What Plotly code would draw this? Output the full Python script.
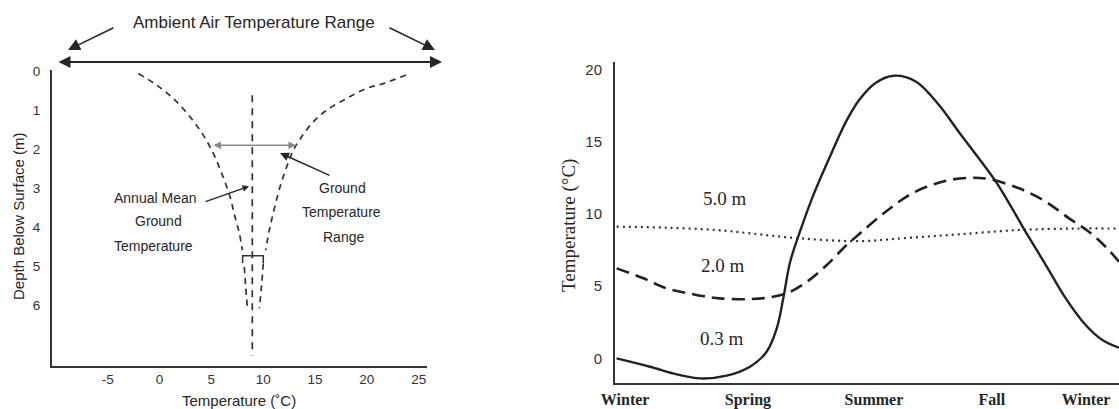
import plotly.graph_objects as go

# ---------------- Left panel data (temperature °C vs depth m) ----------------
left_xticks = [-5, 0, 5, 10, 15, 20, 25]
left_xtick_text = ["-5", "0", "5", "10", "15", "20", "25"]
left_yticks = [0, 1, 2, 3, 4, 5, 6]

cold_upper_temp = [-2.04, -0.27, 1.33, 2.94, 4.22, 5.19, 6.0, 6.8, 7.28, 7.7, 7.99]
cold_upper_depth = [0.06, 0.36, 0.7, 1.17, 1.64, 2.11, 2.62, 3.22, 3.74, 4.16, 4.59]
cold_lower_temp = [8.18, 8.31, 8.47]
cold_lower_depth = [5.02, 5.53, 6.04]

warm_upper_temp = [23.77, 21.58, 19.98, 18.05, 16.12, 14.83, 13.71, 12.9, 12.27, 11.62, 11.04, 10.59, 10.24]
warm_upper_depth = [0.1, 0.32, 0.44, 0.7, 1.0, 1.3, 1.68, 2.03, 2.45, 2.97, 3.56, 4.08, 4.59]
warm_lower_temp = [10.01, 9.86, 9.63]
warm_lower_depth = [4.93, 5.44, 6.08]

mean_temp = [8.95, 8.95]
mean_depth = [0.62, 7.3]

bracket_temp = [8.02, 8.02, 10.01, 10.01]
bracket_depth = [4.92, 4.73, 4.73, 4.92]

range_depth = 1.9
range_lo, range_hi = 5.06, 13.16

# ---------------- Right panel data (season vs temperature) ----------------
season_pos = [0.25, 3.27, 6.37, 9.27, 11.59]
season_labels = ["Winter", "Spring", "Summer", "Fall", "Winter"]
right_yticks = [0, 5, 10, 15, 20]

months_03 = [0.04, 0.86, 1.52, 2.09, 2.75, 3.32, 3.73, 3.98, 4.14, 4.31, 4.55, 4.88, 5.29, 5.7,
             6.03, 6.41, 6.86, 7.4, 7.97, 8.46, 8.95, 9.37, 9.77, 10.1, 10.6, 11.09, 11.58, 11.99, 12.4]
temp_03 = [0, -0.58, -1.11, -1.39, -1.2, -0.58, 0.46, 2.08, 4.16, 6.7, 8.78, 11.32, 14.0, 16.5,
           18.0, 19.1, 19.6, 19.2, 17.57, 15.7, 13.87, 12.25, 10.4, 8.78, 6.47, 4.16, 2.31, 1.27, 0.74]

months_20 = [0.04, 0.7, 1.27, 1.93, 2.58, 3.32, 3.89, 4.31, 4.72, 5.21, 5.7, 6.03, 6.66, 7.31,
             8.05, 8.71, 9.2, 9.94, 10.6, 11.17, 11.66, 12.07, 12.4]
temp_20 = [6.24, 5.55, 4.85, 4.44, 4.16, 4.11, 4.27, 4.62, 5.31, 6.47, 7.86, 8.67, 10.17, 11.44,
           12.25, 12.52, 12.43, 11.79, 10.86, 9.71, 8.78, 7.74, 6.7]

months_50 = [0.04, 1.27, 2.5, 3.32, 4.55, 6.03, 7.23, 8.46, 9.94, 11.33, 12.4]
temp_50 = [9.13, 9.06, 8.9, 8.67, 8.32, 8.13, 8.36, 8.6, 8.9, 9.0, 9.0]

W, H = 1119, 409
def px(x):
    return x / W
def py(y):
    return 1 - y / H

SANS = "Liberation Sans, Arial, sans-serif"
SERIF = "Liberation Serif, Times New Roman, serif"
INK = "#262626"

fig = go.Figure()

ldash = dict(color="#333", width=1.7, dash="6px,5px")
for xs, ys in [(cold_upper_temp, cold_upper_depth), (cold_lower_temp, cold_lower_depth),
               (warm_upper_temp, warm_upper_depth), (warm_lower_temp, warm_lower_depth)]:
    fig.add_trace(go.Scatter(x=xs, y=ys, mode="lines", line=dict(**ldash, shape="spline"),
                             xaxis="x", yaxis="y", hoverinfo="skip"))
fig.add_trace(go.Scatter(x=mean_temp, y=mean_depth, mode="lines",
                         line=dict(color="#333", width=1.7, dash="7px,6px"),
                         xaxis="x", yaxis="y", hoverinfo="skip"))
fig.add_trace(go.Scatter(x=bracket_temp, y=bracket_depth, mode="lines",
                         line=dict(color="#333", width=1.5),
                         xaxis="x", yaxis="y", hoverinfo="skip"))

fig.add_trace(go.Scatter(x=months_50, y=temp_50, mode="lines",
                         line=dict(color="#333", width=2.2, dash="2px,4px", shape="spline"),
                         xaxis="x2", yaxis="y2", hoverinfo="skip"))
fig.add_trace(go.Scatter(x=months_20, y=temp_20, mode="lines",
                         line=dict(color="#222", width=2.6, dash="13px,7px", shape="spline"),
                         xaxis="x2", yaxis="y2", hoverinfo="skip"))
fig.add_trace(go.Scatter(x=months_03, y=temp_03, mode="lines",
                         line=dict(color="#222", width=2.4, shape="spline", smoothing=1.0),
                         xaxis="x2", yaxis="y2", hoverinfo="skip"))

axis_common = dict(showline=True, linecolor="#333", linewidth=2, showgrid=False,
                   zeroline=False, ticks="", fixedrange=True, automargin=False)

fig.update_layout(
    width=W, height=H,
    margin=dict(l=0, r=0, t=0, b=0, autoexpand=False),
    paper_bgcolor="white", plot_bgcolor="white",
    showlegend=False,
    xaxis=dict(domain=[px(52), px(427)], range=[-10.37, 25.8], tickvals=left_xticks,
               ticktext=left_xtick_text,
               tickfont=dict(family=SANS, size=13.5, color="#333"), anchor="y",
               ticklabelstandoff=0, **axis_common),
    yaxis=dict(domain=[py(366), py(70)], range=[7.56, -0.03], tickvals=left_yticks,
               tickfont=dict(family=SANS, size=13.5, color="#333"), anchor="x",
               ticklabelstandoff=7, **axis_common),
    xaxis2=dict(domain=[px(615), 1.0], range=[0, 12.4], tickvals=season_pos,
                ticktext=season_labels,
                tickfont=dict(family=SERIF, size=16, color=INK, weight="bold"),
                anchor="y2", ticklabelstandoff=0, **axis_common),
    yaxis2=dict(domain=[py(383.3), py(61.7)], range=[-1.73, 20.57], tickvals=right_yticks,
                tickfont=dict(family=SANS, size=15, color="#333"), anchor="x2",
                ticklabelstandoff=8, **axis_common),
)

ann = []
def txt(x, y, s, size, family=SANS, angle=0, color=INK, weight="normal"):
    ann.append(dict(x=px(x), y=py(y), xref="paper", yref="paper", text=s, showarrow=False,
                    xanchor="center", yanchor="middle", textangle=angle,
                    font=dict(family=family, size=size, color=color, weight=weight)))

def parrow(hx, hy, tx, ty, width=1.5, size=1.4, both=False, color=INK):
    ann.append(dict(x=px(hx), y=py(hy), xref="paper", yref="paper", ax=tx - hx, ay=ty - hy,
                    axref="pixel", ayref="pixel", text="", showarrow=True, arrowhead=2,
                    arrowsize=size, arrowwidth=width, arrowcolor=color,
                    arrowside="end+start" if both else "end"))

def darrow(hx, hy, tx, ty, width=1.3, size=1.0, both=False, color=INK):
    ann.append(dict(x=hx, y=hy, xref="x", yref="y", ax=tx, ay=ty, axref="x", ayref="y",
                    text="", showarrow=True, arrowhead=2, arrowsize=size, arrowwidth=width,
                    arrowcolor=color, arrowside="end+start" if both else "end"))

# left panel texts
txt(254, 23, "Ambient Air Temperature Range", 17)
txt(18, 216, "Depth Below Surface (m)", 15, angle=-90)
txt(239, 400, "Temperature (˚C)", 15)
txt(155, 198, "Annual Mean", 14)
txt(158, 221, "Ground", 14)
txt(153, 246, "Temperature", 14)
txt(342, 188, "Ground", 14)
txt(341, 212, "Temperature", 14)
txt(343, 237, "Range", 14)

# left panel arrows
parrow(442, 62, 57, 62, width=2, size=1.2, both=True)
parrow(68, 50, 115, 27, width=1.6, size=1.5)
parrow(435, 50, 388, 27, width=1.6, size=1.5)
darrow(range_hi, range_depth, range_lo, range_depth, width=1.5, size=1.0, both=True, color="#888")
darrow(8.63, 2.95, 4.29, 3.36, width=1.3, size=1.0)
darrow(11.62, 2.1, 16.54, 2.69, width=1.5, size=1.2)

# right panel texts
txt(569, 226, "Temperature (°C)", 19, family=SERIF, angle=-90)
txt(725, 198, "5.0 m", 19, family=SERIF)
txt(723, 265, "2.0 m", 19, family=SERIF)
txt(722, 338, "0.3 m", 19, family=SERIF)

fig.update_layout(annotations=ann)
fig.write_html("out.html")
